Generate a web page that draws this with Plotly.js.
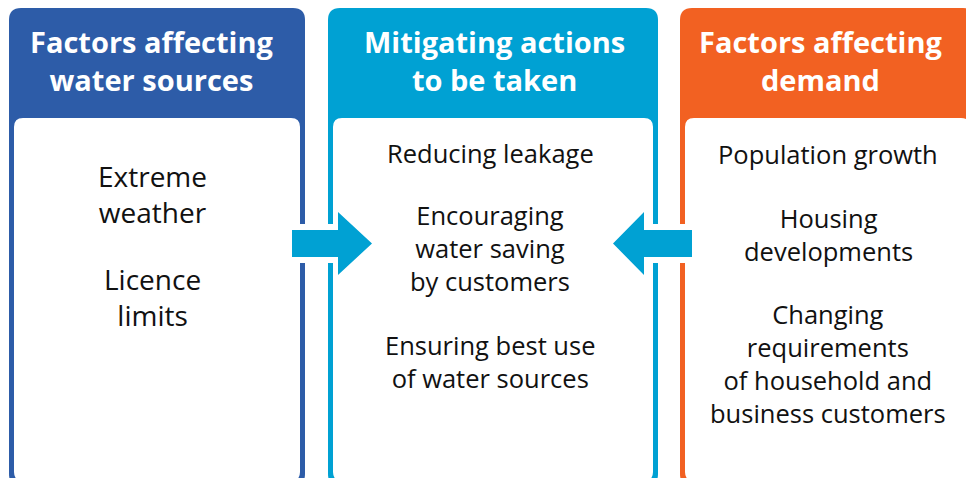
<!DOCTYPE html>
<html><head><meta charset="utf-8">
<script src="https://cdn.plot.ly/plotly-3.0.1.min.js"></script>
<style>html,body{margin:0;padding:0;background:#fff}#c{width:966px;height:478px}</style>
</head><body><div id="c"></div>
<script>
// ---- data (text content) ----
const headers = [
  ["Factors affecting", "water sources"],
  ["Mitigating actions", "to be taken"],
  ["Factors affecting", "demand"]
];
const items0 = [["Extreme", "weather"], ["Licence", "limits"]];
const items1 = [["Reducing leakage"], ["Encouraging", "water saving", "by customers"], ["Ensuring best use", "of water sources"]];
const items2 = [["Population growth"], ["Housing", "developments"], ["Changing", "requirements", "of household and", "business customers"]];
const columnItems = [items0, items1, items2];
const arrowDirections = ["right", "left"];

// ---- layout / style ----
const colors = ["#2D5CA8", "#00A1D3", "#F26122"];
const boxX = [[9, 305], [328, 658], [680, 975]];
const headerCx = [152, 494, 821];
const bodyCx = [152, 490, 828];
const boxTop = 8, boxBottom = 486, headBottom = 118, border = 5;
const headerCenterY = 60;
const itemStartY = [[176, 279], [153, 216, 345], [154, 218, 315]];
const lineGap = [35, 32, 32];
const bodySize = [28, 25.5, 25.5];

function rr(x0, y0, x1, y1, r) {
  return `M${x0+r},${y0} L${x1-r},${y0} Q${x1},${y0} ${x1},${y0+r} L${x1},${y1-r} Q${x1},${y1} ${x1-r},${y1} L${x0+r},${y1} Q${x0},${y1} ${x0},${y1-r} L${x0},${y0+r} Q${x0},${y0} ${x0+r},${y0} Z`;
}

const shapes = [];
const annotations = [];
const font = "Open Sans, Noto Sans, sans-serif";

boxX.forEach((bx, i) => {
  const [x0, x1] = bx;
  shapes.push({type: "path", xref: "x", yref: "y", path: rr(x0, boxTop, x1, boxBottom, 12), fillcolor: colors[i], line: {width: 0}, layer: "below"});
  shapes.push({type: "path", xref: "x", yref: "y", path: rr(x0 + border, headBottom, x1 - border, boxBottom - border, 9), fillcolor: "#ffffff", line: {width: 0}, layer: "below"});
  annotations.push({x: headerCx[i], y: headerCenterY, xref: "x", yref: "y",
    text: headers[i].map(t => "<b>" + t + "</b>").join("<br>"), showarrow: false, align: "center",
    xanchor: "center", yanchor: "middle", font: {family: font, size: 29, color: "#ffffff"}});
  columnItems[i].forEach((lines, j) => {
    const cy = itemStartY[i][j] + (lines.length - 1) * lineGap[i] / 2;
    annotations.push({x: bodyCx[i], y: cy, xref: "x", yref: "y", text: lines.join("<br>"), showarrow: false, align: "center",
      xanchor: "center", yanchor: "middle", font: {family: font, size: bodySize[i], color: "#111111"}});
  });
});

// arrows between columns
arrowDirections.forEach((d, i) => {
  const gapX0 = boxX[i][1] - border - 4, gapX1 = boxX[i + 1][0] + border + 4;
  shapes.push({type: "rect", xref: "x", yref: "y", x0: gapX0, x1: gapX1, y0: 224, y1: 263, fillcolor: "#ffffff", line: {width: 0}, layer: "above"});
  let p;
  if (d === "right") {
    const s0 = 292, hb = 338, tip = 372;
    p = `M${s0},230 L${hb},230 L${hb},212 L${tip},243.5 L${hb},275 L${hb},257 L${s0},257 Z`;
  } else {
    const s0 = 692, hb = 644, tip = 613;
    p = `M${s0},230 L${hb},230 L${hb},212 L${tip},243.5 L${hb},275 L${hb},257 L${s0},257 Z`;
  }
  shapes.push({type: "path", xref: "x", yref: "y", path: p, fillcolor: colors[1], line: {width: 0}, layer: "above"});
});

const layout = {
  width: 966, height: 478, margin: {l: 0, r: 0, t: 0, b: 0},
  paper_bgcolor: "#ffffff", plot_bgcolor: "#ffffff",
  xaxis: {range: [0, 966], visible: false, fixedrange: true},
  yaxis: {range: [478, 0], visible: false, fixedrange: true},
  shapes, annotations, showlegend: false
};
Plotly.newPlot("c", [{x: [], y: [], type: "scatter"}], layout, {displayModeBar: false, staticPlot: true});
</script></body></html>
